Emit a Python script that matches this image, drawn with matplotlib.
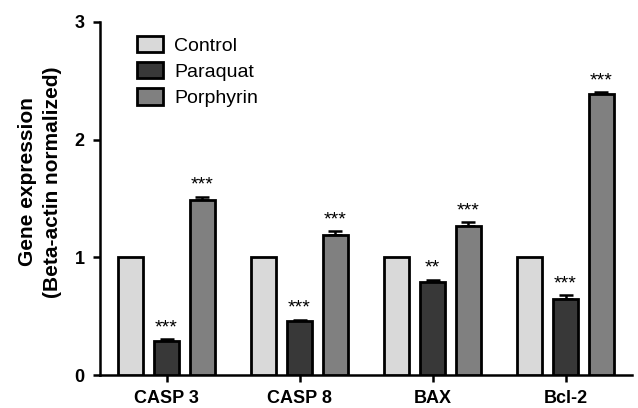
import numpy as np
import matplotlib
matplotlib.use("Agg")
import matplotlib.pyplot as plt
from matplotlib.patches import Patch

plt.rcParams['font.family'] = ['Liberation Sans', 'DejaVu Sans']

genes = ['CASP 3', 'CASP 8', 'BAX', 'Bcl-2']
groups = ['Control', 'Paraquat', 'Porphyrin']
control = [1.0, 1.0, 1.0, 1.0]
paraquat = [0.29, 0.46, 0.79, 0.65]
porphyrin = [1.49, 1.19, 1.27, 2.39]
control_err = [0.0, 0.0, 0.0, 0.0]
paraquat_err = [0.015, 0.01, 0.02, 0.03]
porphyrin_err = [0.025, 0.03, 0.03, 0.015]
paraquat_sig = ['***', '***', '**', '***']
porphyrin_sig = ['***', '***', '***', '***']

colors = ['#d9d9d9', '#383838', '#808080']

fig = plt.figure(figsize=(6.38, 4.08), dpi=100)
ax = fig.add_axes([100/638, 1 - 375/408, 532/638, 353/408])

x = np.arange(len(genes))
w = 0.19
off = 0.27
series = [control, paraquat, porphyrin]
errs = [control_err, paraquat_err, porphyrin_err]
sigs = [None, paraquat_sig, porphyrin_sig]
for i, (vals, err, sig) in enumerate(zip(series, errs, sigs)):
    pos = x + (i - 1) * off
    ax.bar(pos, vals, width=w, color=colors[i], edgecolor='black', linewidth=2.0, zorder=3)
    if any(err):
        ax.errorbar(pos, vals, yerr=[np.zeros(len(err)), err], fmt='none', ecolor='black',
                    elinewidth=1.8, capsize=5, capthick=1.8, zorder=2)
    if sig:
        for p, v, e, s in zip(pos, vals, err, sig):
            ax.text(p, v + e + 0.025, s, ha='center', va='bottom', fontsize=14)

ax.set_xlim(-0.5, 3.5)
ax.set_ylim(0, 3)
ax.set_yticks([0, 1, 2, 3])
ax.set_xticks(x)
ax.set_xticklabels(genes, fontsize=13, fontweight='bold')
for lab in ax.get_yticklabels():
    lab.set_fontsize(13)
    lab.set_fontweight('bold')
ax.spines['top'].set_visible(False)
ax.spines['right'].set_visible(False)
ax.spines['left'].set_linewidth(1.8)
ax.spines['bottom'].set_linewidth(1.8)
ax.tick_params(axis='both', width=1.8, length=5, pad=6)
ax.set_ylabel('Gene expression\n(Beta-actin normalized)', fontsize=15, fontweight='bold',
              linespacing=1.4)
ax.yaxis.set_label_coords(-0.072, 0.547)

handles = [Patch(facecolor=c, edgecolor='black', linewidth=2.0) for c in colors]
ax.legend(handles, groups, loc='upper left', bbox_to_anchor=(0.07, 0.96), frameon=False,
          fontsize=14, handlelength=1.3, handleheight=0.9, handletextpad=0.6,
          labelspacing=0.38, borderpad=0, borderaxespad=0)

fig.savefig('out.png', dpi=100)
